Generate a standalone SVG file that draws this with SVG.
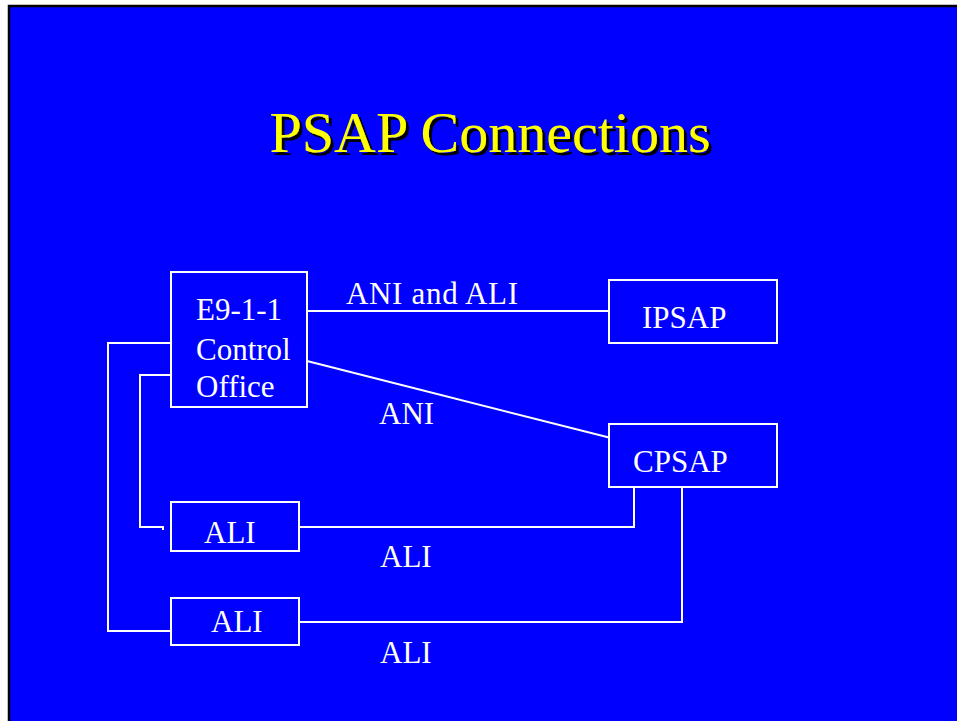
<svg xmlns="http://www.w3.org/2000/svg" width="957" height="721" viewBox="0 0 957 721">
<defs>
<filter id="shadow" x="-5%" y="-20%" width="110%" height="140%">
<feOffset in="SourceAlpha" dx="2.5" dy="2.5" result="off"/>
<feFlood flood-color="#000"/>
<feComposite in2="off" operator="in" result="sh"/>
<feMerge><feMergeNode in="sh"/><feMergeNode in="SourceGraphic"/></feMerge>
</filter>
</defs>
<style>
.box{fill:none;stroke:#fff;stroke-width:2}
.ln{fill:none;stroke:#fff;stroke-width:2}
.t{font-family:"Liberation Serif","Times New Roman",serif;font-size:31px;fill:#fff}
.title{font-family:"Liberation Serif","Times New Roman",serif;font-size:58px;text-anchor:middle;fill:#ffff00}
</style>
<rect x="0" y="0" width="957" height="721" fill="#fff"/>
<rect x="9" y="6" width="960" height="730" fill="#0000ff" stroke="#000" stroke-width="2.5"/>
<g id="title">
<text class="title" x="490" y="151.5" filter="url(#shadow)">PSAP Connections</text>
</g>
<g id="connectors">
<polyline class="ln" points="307,311 609,311"/>
<polyline class="ln" points="307,361 609,437.5"/>
<polyline class="ln" points="171,343 108,343 108,631 171,631"/>
<polyline class="ln" points="171,375 140,375 140,527 163,527 163,530"/>
<polyline class="ln" points="299,527 634,527 634,487"/>
<polyline class="ln" points="299,622 682,622 682,487"/>
</g>
<g id="labels">
<text class="t" x="346" y="304" textLength="172">ANI and ALI</text>
<text class="t" x="379" y="424">ANI</text>
<text class="t" x="380" y="567">ALI</text>
<text class="t" x="380" y="663">ALI</text>
</g>
<g id="e911">
<rect class="box" x="171" y="272" width="136" height="135"/>
<text class="t" x="196" y="320">E9-1-1</text>
<text class="t" x="196" y="360">Control</text>
<text class="t" x="196" y="397">Office</text>
</g>
<g id="ipsap">
<rect class="box" x="609" y="280" width="168" height="63"/>
<text class="t" x="642" y="328">IPSAP</text>
</g>
<g id="cpsap">
<rect class="box" x="609" y="424" width="168" height="63"/>
<text class="t" x="633" y="472">CPSAP</text>
</g>
<g id="ali1">
<rect class="box" x="171" y="502" width="128" height="49"/>
<text class="t" x="204" y="543">ALI</text>
</g>
<g id="ali2">
<rect class="box" x="171" y="598" width="128" height="47"/>
<text class="t" x="211" y="632">ALI</text>
</g>
</svg>
